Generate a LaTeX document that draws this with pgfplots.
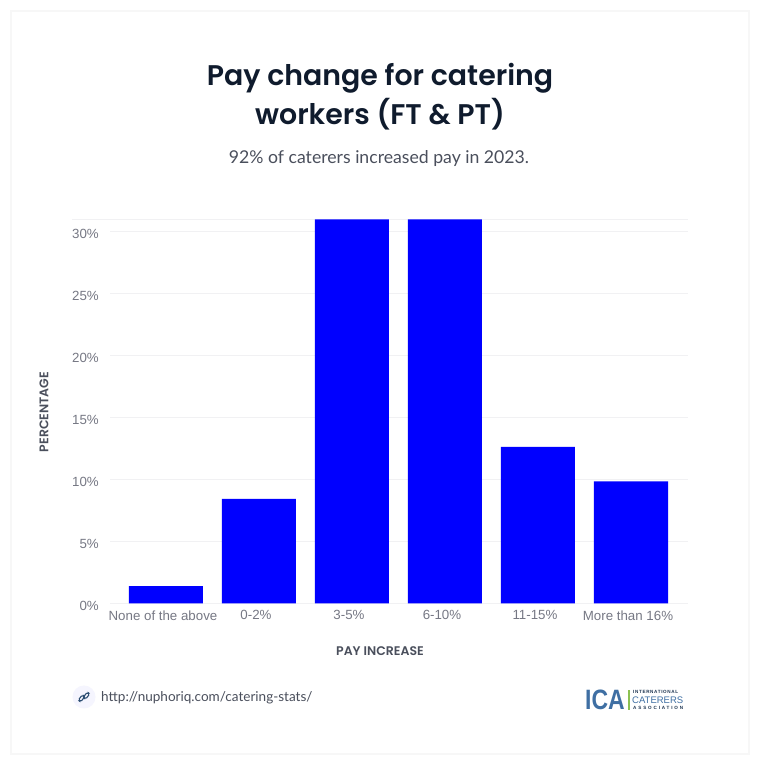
\documentclass[border=0pt]{standalone}
\usepackage{fontspec}
\usepackage{pgfplots}
\usepackage{pgfplotstable}
\pgfplotsset{compat=1.18}
\setmainfont{Liberation Sans}
\newfontfamily\titlefont{Poppins SemiBold}
\newfontfamily\subfont{Lato}
\definecolor{ink}{HTML}{0F1B2D}
\definecolor{subgray}{HTML}{4A4F5C}
\definecolor{tickgray}{HTML}{767884}
\definecolor{gridgray}{HTML}{F1F1F3}
\definecolor{logoblue}{HTML}{3F6FA3}
\definecolor{logogreen}{HTML}{8CC152}

\pgfplotstableread{
x pct
0 1.4
1 8.45
2 31
3 31
4 12.65
5 9.85
}\paydata

\begin{document}
\begin{tikzpicture}[x=1pt,y=1pt]
\path[use as bounding box,fill=white] (0,0) rectangle (760,765);
% card
\fill[black!3] (10,10) rectangle (750,755);
\fill[white] (12,12) rectangle (748,753);
\draw[gridgray,line width=0.9pt] (72,545.5) -- (110,545.5);

\begin{axis}[
  at={(110pt,161.5pt)},anchor=south west,
  scale only axis,width=578pt,height=384pt,
  xmin=-0.602,xmax=5.613,ymin=0,ymax=31,
  axis line style={draw=none},
  ybar,bar width=74pt,
  xtick=data,
  xticklabels={None of the above,0-2\%,3-5\%,6-10\%,11-15\%,More than 16\%},
  ytick={0,5,...,30},
  extra y ticks={31},extra y tick labels={},
  yticklabel={\pgfmathprintnumber{\tick}\%},
  /pgf/number format/assume math mode=true,
  major tick length=0pt,
  tick style={draw=none},
  ymajorgrids,
  grid style={gridgray,line width=0.9pt},
  extra y tick style={grid style={gridgray,line width=0.9pt}},
  ticklabel style={font=\fontsize{13.3}{13.3}\selectfont,text=tickgray,inner sep=0pt},
  yticklabel style={xshift=-11pt,yshift=-2pt},
  xticklabel style={xshift=-3pt,yshift=-7pt},
]
\draw[gridgray,line width=1pt] (axis cs:-0.602,0) -- (axis cs:5.613,0);
\addplot[fill={rgb,255:red,0;green,0;blue,255},draw=none,bar shift=0pt] table[x=x,y=pct] {\paydata};
\end{axis}

\node[font=\titlefont\fontsize{28.4}{39}\selectfont,text=ink,align=center] at (380,668) {Pay change for catering\\workers (FT \& PT)};
\node[font=\subfont\fontsize{17.65}{18}\selectfont,text=subgray] at (379,606) {92\% of caterers increased pay in 2023.};
\node[font=\titlefont\fontsize{12.5}{13}\selectfont,text=subgray,rotate=90] at (44,353) {PERCENTAGE};
\node[font=\titlefont\fontsize{12.5}{13}\selectfont,text=subgray] at (380,114) {PAY INCREASE};

% link badge
\fill[black!5!blue!4] (84,68) circle (11.5);
\begin{scope}[shift={(84,68)},rotate=52,draw=logoblue!70!black,line width=1.1pt]
\draw[rounded corners=1.7pt] (-6,-0.4) rectangle (0.8,2.6);
\draw[rounded corners=1.7pt] (-0.8,-2.6) rectangle (6,0.4);
\end{scope}
\node[font=\subfont\fontsize{13.55}{14}\selectfont,text=subgray,anchor=west,inner sep=0pt] at (101,67) {http://nuphoriq.com/catering-stats/};

% logo
\node[font=\bfseries\fontsize{28}{28}\selectfont,text=logoblue,anchor=west,inner sep=0pt,xscale=0.82] at (585,65) {ICA};
\draw[logogreen,line width=1.2pt] (629,55) -- (629,75);
\node[font=\bfseries\fontsize{4.6}{4.6}\selectfont\addfontfeatures{LetterSpace=14},text=ink!70!logoblue,anchor=west,inner sep=0pt] at (633,73) {INTERNATIONAL};
\node[font=\fontsize{9.5}{9.5}\selectfont,text=logoblue,anchor=west,inner sep=0pt] at (632,64.8) {CATERERS};
\node[font=\bfseries\fontsize{4.6}{4.6}\selectfont\addfontfeatures{LetterSpace=40},text=ink!70!logoblue,anchor=west,inner sep=0pt] at (633,57) {ASSOCIATION};
\end{tikzpicture}
\end{document}
